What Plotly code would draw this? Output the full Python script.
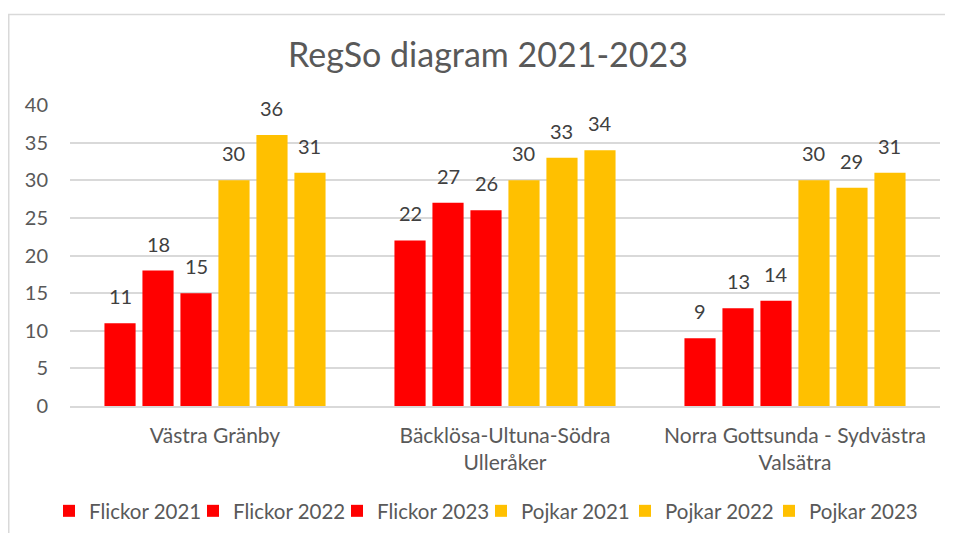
import plotly.graph_objects as go

categories = ["Västra Gränby", "Bäcklösa-Ultuna-Södra<br>Ulleråker", "Norra Gottsunda - Sydvästra<br>Valsätra"]
series_names = ["Flickor 2021", "Flickor 2022", "Flickor 2023", "Pojkar 2021", "Pojkar 2022", "Pojkar 2023"]
flickor_2021 = [11, 22, 9]
flickor_2022 = [18, 27, 13]
flickor_2023 = [15, 26, 14]
pojkar_2021 = [30, 30, 30]
pojkar_2022 = [36, 33, 29]
pojkar_2023 = [31, 34, 31]
series_values = [flickor_2021, flickor_2022, flickor_2023, pojkar_2021, pojkar_2022, pojkar_2023]
series_colors = ["#FF0000", "#FF0000", "#FF0000", "#FFC000", "#FFC000", "#FFC000"]
y_ticks = [0, 5, 10, 15, 20, 25, 30, 35, 40]

FONT = "Lato"
TXT = "#595959"

# page body has an 8px margin, so the figure is drawn at (8, 8)
W, H = 937, 525
ML, MT = 62, 97
PLOT_RIGHT, PLOT_BOTTOM = 932, 398
MR, MB = W - PLOT_RIGHT, H - PLOT_BOTTOM
BARGAP = 0.214
BARGROUPGAP = 0.18
LEGEND_STEP = 144  # px between legend entries
LEG_X0 = 41

plot_w = W - ML - MR
plot_h = H - MT - MB

def px_x(p):
    return (p - ML) / plot_w
def px_y(p):
    return (H - MB - p) / plot_h

n = len(series_names)
legend_ids = ["legend"] + ["legend%d" % (k + 1) for k in range(1, n)]

fig = go.Figure()
for i, (name, vals, col) in enumerate(zip(series_names, series_values, series_colors)):
    fig.add_trace(go.Bar(name=name, x=categories, y=vals, marker=dict(color=col, line=dict(width=0)),
                         hoverinfo="x+y+name", legend=legend_ids[i]))

# data labels aligned to bar slots
slot_px = plot_w / len(categories) * (1 - BARGAP) / n
for i, vals in enumerate(series_values):
    for c, v in zip(categories, vals):
        fig.add_annotation(x=c, y=v, text=str(v), showarrow=False, yanchor="bottom",
                           xshift=(i - (n - 1) / 2) * slot_px, yshift=13,
                           font=dict(family=FONT, size=20, color="#404040"))

border = "#D9D9D9"
fig.add_shape(type="line", xref="paper", yref="paper", x0=px_x(0), x1=px_x(W), y0=px_y(6.5), y1=px_y(6.5),
              line=dict(color=border, width=1.5))
fig.add_shape(type="line", xref="paper", yref="paper", x0=px_x(0.75), x1=px_x(0.75), y0=px_y(6.5), y1=px_y(H),
              line=dict(color=border, width=1.5))

legend_style = dict(orientation="h", xanchor="left", yanchor="middle", y=px_y(503),
                    font=dict(family=FONT, size=20.5, color=TXT), itemwidth=30, tracegroupgap=0,
                    traceorder="normal", bgcolor="rgba(0,0,0,0)")
legends = {lid: dict(x=px_x(LEG_X0 + LEGEND_STEP * k), **legend_style) for k, lid in enumerate(legend_ids)}

fig.update_layout(
    width=W, height=H,
    margin=dict(l=ML, r=MR, t=MT, b=MB, autoexpand=False),
    paper_bgcolor="white", plot_bgcolor="white",
    barmode="group", bargap=BARGAP, bargroupgap=BARGROUPGAP,
    title=dict(text="RegSo diagram 2021‐2023", x=480 / W, xref="container", xanchor="center",
               y=1 - 47 / H, yref="container", yanchor="middle",
               font=dict(family=FONT, size=34, color=TXT)),
    font=dict(family=FONT, color=TXT),
    xaxis=dict(showgrid=False, showline=True, linecolor=border, linewidth=1.5, ticks="",
               tickfont=dict(family=FONT, size=21, color=TXT), ticklabelstandoff=10),
    yaxis=dict(range=[0, 40], tickvals=y_ticks, showgrid=True, gridcolor=border, gridwidth=1.5,
               zeroline=False, showline=False, ticks="",
               tickfont=dict(family=FONT, size=20, color=TXT), ticklabelstandoff=21),
    showlegend=True,
    **legends,
)

fig.write_html("out.html")
